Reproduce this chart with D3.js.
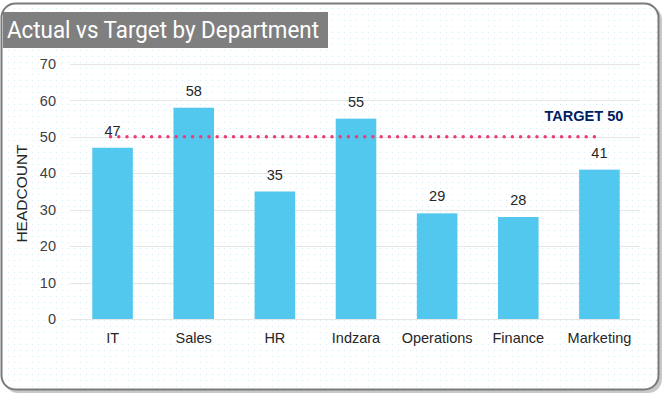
<!DOCTYPE html>
<html>
<head>
<meta charset="utf-8">
<script src="https://cdn.jsdelivr.net/npm/d3@7"></script>
<style>
  body { margin: 0; background: #fff; }
  svg { display: block; }
</style>
</head>
<body>
<svg id="chart" width="663" height="394"></svg>
<script>
// chart values
var departments = ["IT", "Sales", "HR", "Indzara", "Operations", "Finance", "Marketing"];
var headcount = [47, 58, 35, 55, 29, 28, 41];
var target = 50;
var yTicks = [0, 10, 20, 30, 40, 50, 60, 70];

var width = 663;
var height = 394;
var margin = { top: 64, right: 22, bottom: 75, left: 72 };

var svg = d3.select("#chart");

// dotted background pattern
var defs = svg.append("defs");
var pat = defs
  .append("pattern")
  .attr("id", "dots")
  .attr("width", 6)
  .attr("height", 6)
  .attr("patternUnits", "userSpaceOnUse");
pat.append("rect").attr("width", 6).attr("height", 6).attr("fill", "#fff");
pat.append("rect").attr("x", 2).attr("y", 2).attr("width", 1).attr("height", 1).attr("fill", "#d3edf7");

// card with shadow + border
svg
  .append("rect")
  .attr("x", 4)
  .attr("y", 6)
  .attr("width", 658)
  .attr("height", 387)
  .attr("rx", 14)
  .attr("fill", "#c8c8c8");
svg
  .append("rect")
  .attr("x", 1.5)
  .attr("y", 3.5)
  .attr("width", 657)
  .attr("height", 386)
  .attr("rx", 14)
  .attr("fill", "url(#dots)")
  .attr("stroke", "#7a7a7a")
  .attr("stroke-width", 2);

// title box
svg
  .append("rect")
  .attr("x", 3)
  .attr("y", 12)
  .attr("width", 325)
  .attr("height", 36)
  .attr("fill", "#7f7f7f");
svg
  .append("text")
  .attr("x", 7)
  .attr("y", 38)
  .attr("fill", "#fff")
  .attr("font-family", "Roboto, sans-serif")
  .attr("font-size", 23)
  .attr("textLength", 312)
  .attr("lengthAdjust", "spacingAndGlyphs")
  .text("Actual vs Target by Department");

var x = d3
  .scaleBand()
  .domain(departments)
  .range([margin.left, width - margin.right - 1])
  .paddingInner(0.5)
  .paddingOuter(0.25);

var y = d3
  .scaleLinear()
  .domain([0, 70])
  .range([height - margin.bottom, margin.top]);

// gridlines
svg
  .append("g")
  .selectAll("line")
  .data(yTicks)
  .join("line")
  .attr("x1", x.range()[0] - 2)
  .attr("x2", x.range()[1])
  .attr("y1", d => Math.round(y(d)) + 0.5)
  .attr("y2", d => Math.round(y(d)) + 0.5)
  .attr("stroke", "#e6e6e6")
  .attr("stroke-width", 1);

// y axis labels
var yAxis = svg
  .append("g")
  .attr("transform", "translate(" + (margin.left - 16) + ",0)")
  .call(d3.axisLeft(y).tickValues(yTicks).tickSize(0).tickPadding(0));
yAxis.select(".domain").remove();
yAxis
  .selectAll("text")
  .attr("font-family", "Liberation Sans, Arial, sans-serif")
  .attr("font-size", 14.5)
  .attr("fill", "#404040");

// x axis labels
var xAxis = svg
  .append("g")
  .attr("transform", "translate(0," + y(0) + ")")
  .call(d3.axisBottom(x).tickSize(0).tickPadding(14));
xAxis.select(".domain").remove();
xAxis
  .selectAll("text")
  .attr("font-family", "Liberation Sans, Arial, sans-serif")
  .attr("font-size", 14.5)
  .attr("fill", "#262626");

// y title
svg
  .append("text")
  .attr("transform", "translate(27," + ((y(0) + y(70)) / 2 + 2) + ") rotate(-90)")
  .attr("text-anchor", "middle")
  .attr("font-family", "Liberation Sans, Arial, sans-serif")
  .attr("font-size", 15.5)
  .attr("fill", "#262626")
  .text("HEADCOUNT");

// bars
svg
  .append("g")
  .selectAll("rect")
  .data(departments)
  .join("rect")
  .attr("x", d => x(d))
  .attr("width", x.bandwidth())
  .attr("y", (d, i) => y(headcount[i]))
  .attr("height", (d, i) => y(0) - y(headcount[i]))
  .attr("fill", "#52c8ef");

// data labels
svg
  .append("g")
  .selectAll("text")
  .data(departments)
  .join("text")
  .attr("x", d => x(d) + x.bandwidth() / 2)
  .attr("y", (d, i) => y(headcount[i]) - 12)
  .attr("text-anchor", "middle")
  .attr("font-family", "Liberation Sans, Arial, sans-serif")
  .attr("font-size", 14.5)
  .attr("fill", "#262626")
  .text((d, i) => headcount[i]);

// target line
var first = departments[0];
var last = departments[departments.length - 1];
svg
  .append("line")
  .attr("x1", x(first) + x.bandwidth() / 2 - 2)
  .attr("x2", x(last) + x.bandwidth() / 2)
  .attr("y1", y(target))
  .attr("y2", y(target))
  .attr("stroke", "#ec3a72")
  .attr("stroke-width", 3.5)
  .attr("stroke-linecap", "round")
  .attr("stroke-dasharray", "0 8.2");

svg
  .append("text")
  .attr("x", x(last) + x.bandwidth() / 2 + 24)
  .attr("y", y(target) - 16)
  .attr("text-anchor", "end")
  .attr("font-family", "Liberation Sans, Arial, sans-serif")
  .attr("font-weight", "bold")
  .attr("font-size", 15.5)
  .attr("textLength", 79)
  .attr("lengthAdjust", "spacingAndGlyphs")
  .attr("fill", "#002060")
  .text("TARGET " + target);
</script>
</body>
</html>
